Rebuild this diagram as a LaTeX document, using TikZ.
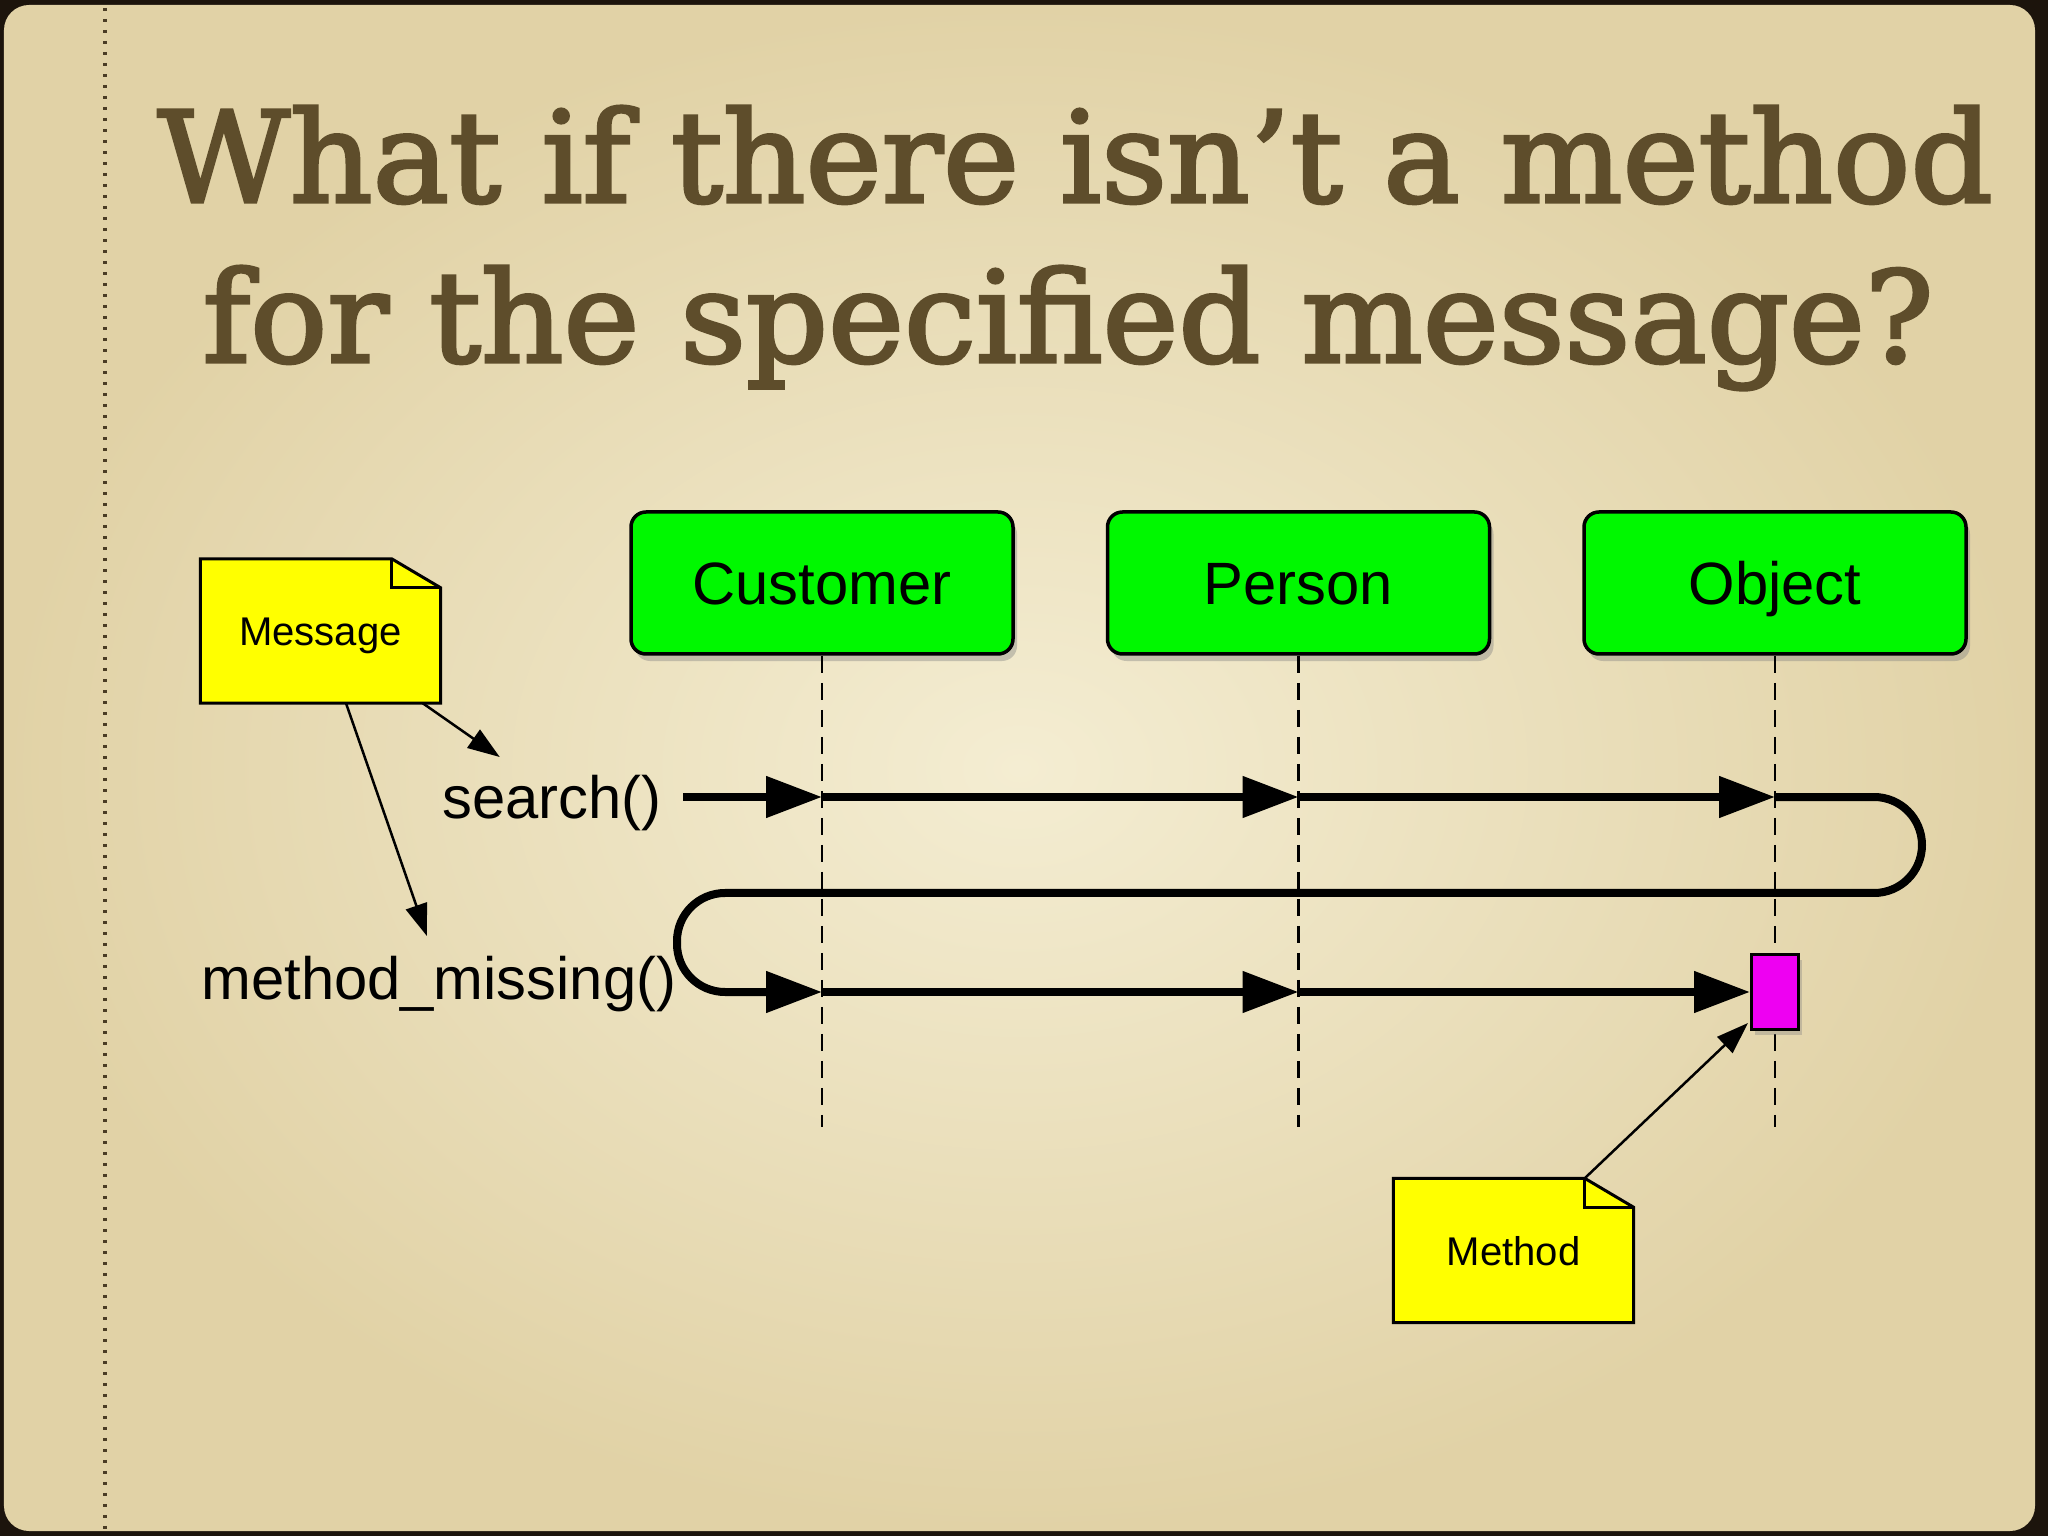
\documentclass[tikz,border=0pt]{standalone}
\usepackage{fontspec}
\setmainfont{DejaVu Serif}
\setsansfont{Liberation Sans}
\newfontfamily\titlefont{DejaVu Serif}[FakeBold=2.5]
\usepackage{graphicx}
\usepackage{tikz}
\usetikzlibrary{arrows.meta, positioning, calc, shadows}
\definecolor{paperLight}{HTML}{F4EDD2}
\definecolor{paperDark}{HTML}{E1D2A6}
\definecolor{frameColor}{HTML}{1C140C}
\definecolor{titleColor}{HTML}{5E4D2B}
\definecolor{classColor}{HTML}{00F800}
\definecolor{noteColor}{HTML}{FFFF00}
\definecolor{actColor}{HTML}{EE00F2}
\definecolor{dotColor}{HTML}{4A3C24}
\pgfdeclarelayer{paper}
\pgfdeclarelayer{notes}
\pgfsetlayers{paper,notes,main}

\begin{document}
\begin{tikzpicture}[font=\sffamily, >=Stealth,
    classbox/.style={rectangle, rounded corners=0.15cm, draw=black, line width=0.035cm, fill=classColor, minimum width=3.82cm, minimum height=1.42cm, text height=0.43cm, text depth=0pt, font=\sffamily\fontsize{17}{20}\selectfont, drop shadow={opacity=0.4, shadow xshift=0.04cm, shadow yshift=-0.07cm}},
    actbox/.style={rectangle, draw=black, line width=0.03cm, fill=actColor, minimum width=0.47cm, minimum height=0.75cm, inner sep=0pt, drop shadow={opacity=0.35, shadow xshift=0.03cm, shadow yshift=-0.05cm}},
    notebox/.style={minimum width=2.39cm, minimum height=1.43cm, inner sep=0pt, text height=0.29cm, text depth=0pt, font=\sffamily\fontsize{11.4}{13}\selectfont},
    noteline/.style={draw=black, line width=0.03cm, fill=noteColor, line join=miter},
    msglabel/.style={inner sep=0pt, font=\sffamily\fontsize{17}{20}\selectfont},
    lifeline/.style={line width=0.025cm, dash pattern=on 0.17cm off 0.1cm},
    call/.style={line width=0.08cm, -{Triangle[length=0.56cm, width=0.4cm]}},
    pointer/.style={line width=0.025cm, -{Triangle[length=0.32cm, width=0.22cm]}},
    titletext/.style={inner sep=0pt, anchor=base west, text=titleColor, font=\titlefont\fontsize{36}{40}\selectfont}]
  \useasboundingbox (0,0) rectangle (20.48,-15.36);

  % Slide paper with dotted margin
  \begin{pgfonlayer}{paper}
    \fill[frameColor] (0,0) rectangle (20.48,-15.36);
    \shade[inner color=paperLight, outer color=paperDark, rounded corners=0.25cm] (0.04,-0.05) rectangle (20.35,-15.31);
    \draw[dotColor, line width=0.035cm, dash pattern=on 0.035cm off 0.075cm] (1.05,-0.08) -- (1.05,-15.3);
  \end{pgfonlayer}

  % Title
  \node[titletext] (title1) at (1.57,-2.02) {\resizebox{18.35cm}{0.96cm}{What if there isn’t a method}};
  \node[titletext] (title2) at (2.02,-3.62) {\resizebox{17.31cm}{0.96cm}{for the specified message?}};

  % Classes and lifelines
  \node[classbox] (cust) at (8.22,-5.83) {Customer};
  \node[classbox, right=0.91cm of cust] (pers) {Person};
  \node[classbox, right=0.91cm of pers] (obj) {Object};
  \coordinate (bottom) at (0,-11.27);
  \foreach \cls in {cust,pers,obj}
    \draw[lifeline] (\cls.south) -- (\cls.south |- bottom);

  % Message rows
  \coordinate (s0) at (6.83,-7.97);
  \coordinate (mrow) at (0,-9.92);
  \coordinate (s1) at (cust |- s0);
  \coordinate (s2) at (pers |- s0);
  \coordinate (s3) at (obj |- s0);
  \coordinate (m1) at (cust |- mrow);
  \coordinate (m2) at (pers |- mrow);
  \coordinate (loopR) at (19.22,-8.93);
  \coordinate (loopL) at (6.77,-8.93);
  \node[actbox] (act) at (obj |- mrow) {};

  \node[msglabel, anchor=base east] (srch) at (6.62,-8.18) {search()};
  \node[msglabel, anchor=base east] (mmiss) at (6.77,-9.99) {method\_missing()};

  \draw[call] (s0) -- (s1);
  \draw[call] (s1) -- (s2);
  \draw[call] (s2) -- (s3);
  \draw[call, rounded corners=0.48cm] (s3) -| (loopR) -- (loopL) |- (m1);
  \draw[call] (m1) -- (m2);
  \draw[call] (m2) -- (act.west);

  % Notes
  \node[notebox] (msg) at (3.205,-6.31) {Message};
  \node[notebox] (mth) at (15.135,-12.505) {Method};
  \begin{pgfonlayer}{notes}
    \foreach \nt in {msg,mth} {
      \draw[noteline] (\nt.south west) -- (\nt.north west) -- ([xshift=-0.49cm]\nt.north east) -- ([yshift=-0.29cm]\nt.north east) -- (\nt.south east) -- cycle;
      \draw[line width=0.03cm] ([xshift=-0.49cm]\nt.north east) |- ([yshift=-0.29cm]\nt.north east);
    }
  \end{pgfonlayer}

  \draw[pointer] ([xshift=-0.18cm]msg.south east) -- ([xshift=-0.52cm, yshift=0.17cm]srch.north);
  \draw[pointer] ([xshift=0.255cm]msg.south) -- ([xshift=-0.12cm, yshift=0.19cm]mmiss.north);
  \draw[pointer] ([xshift=-0.49cm]mth.north east) -- ([xshift=-0.02cm, yshift=0.08cm]act.south west);
\end{tikzpicture}
\end{document}
